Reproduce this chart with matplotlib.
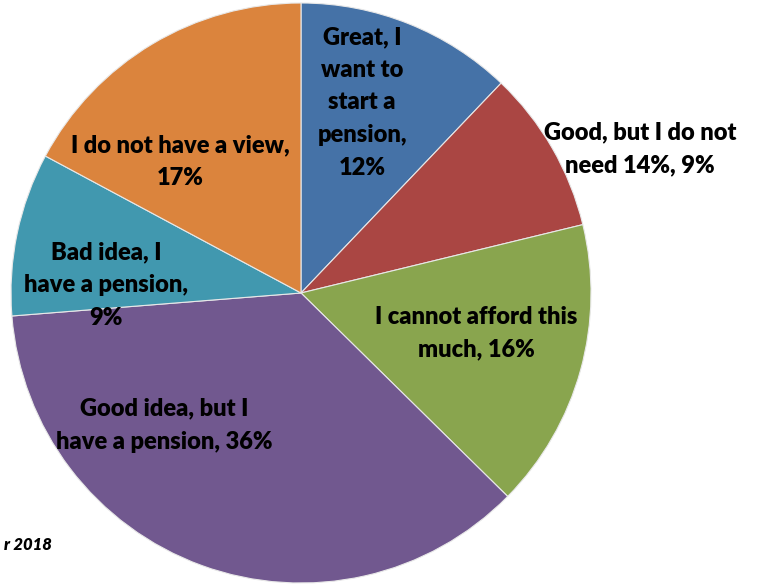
import numpy as np
import matplotlib
matplotlib.use("Agg")
import matplotlib.pyplot as plt

# pension survey answers, clockwise from the top
labels = ["Great, I\nwant to\nstart a\npension,\n12%",
          "Good, but I do not\nneed 14%, 9%",
          "I cannot afford this\nmuch, 16%",
          "Good idea, but I\nhave a pension, 36%",
          "Bad idea, I\nhave a pension,\n9%",
          "I do not have a view,\n17%"]
values = [12, 9, 16, 36, 9, 17]
colors = ["#4572A7", "#AA4643", "#89A54E", "#71588F", "#4198AF", "#DB843D"]

# label placement (radius fraction, angle offset in degrees from wedge middle)
label_r = [0.69, 1.27, 0.62, 0.656, 0.673, 0.615]
label_shift = [4, -6.9, 2.6, -26, 9.4, 11.8]

fig = plt.figure(figsize=(7.58, 5.84), dpi=100)
ax = fig.add_axes([11/758, 1/584, 580/758, 580/584])

wedges, _ = ax.pie(values, colors=colors, startangle=90, counterclock=False,
                   wedgeprops=dict(edgecolor="#e8e8e8", linewidth=0.8))
ax.set_aspect("equal")
ax.set_xlim(-1, 1)
ax.set_ylim(-1, 1)

for w, lab, r, s in zip(wedges, labels, label_r, label_shift):
    ang = np.deg2rad((w.theta1 + w.theta2) / 2 + s)
    ax.text(r * np.cos(ang), r * np.sin(ang), lab, ha="center", va="center",
            fontsize=17, fontweight="heavy", family="Lato",
            linespacing=1.6, color="black")

fig.text(0.005, (584 - 545) / 584, "r 2018", ha="left", va="center", fontsize=12,
         fontweight="heavy", style="italic", family="Lato")

fig.savefig("out.png", dpi=100)
